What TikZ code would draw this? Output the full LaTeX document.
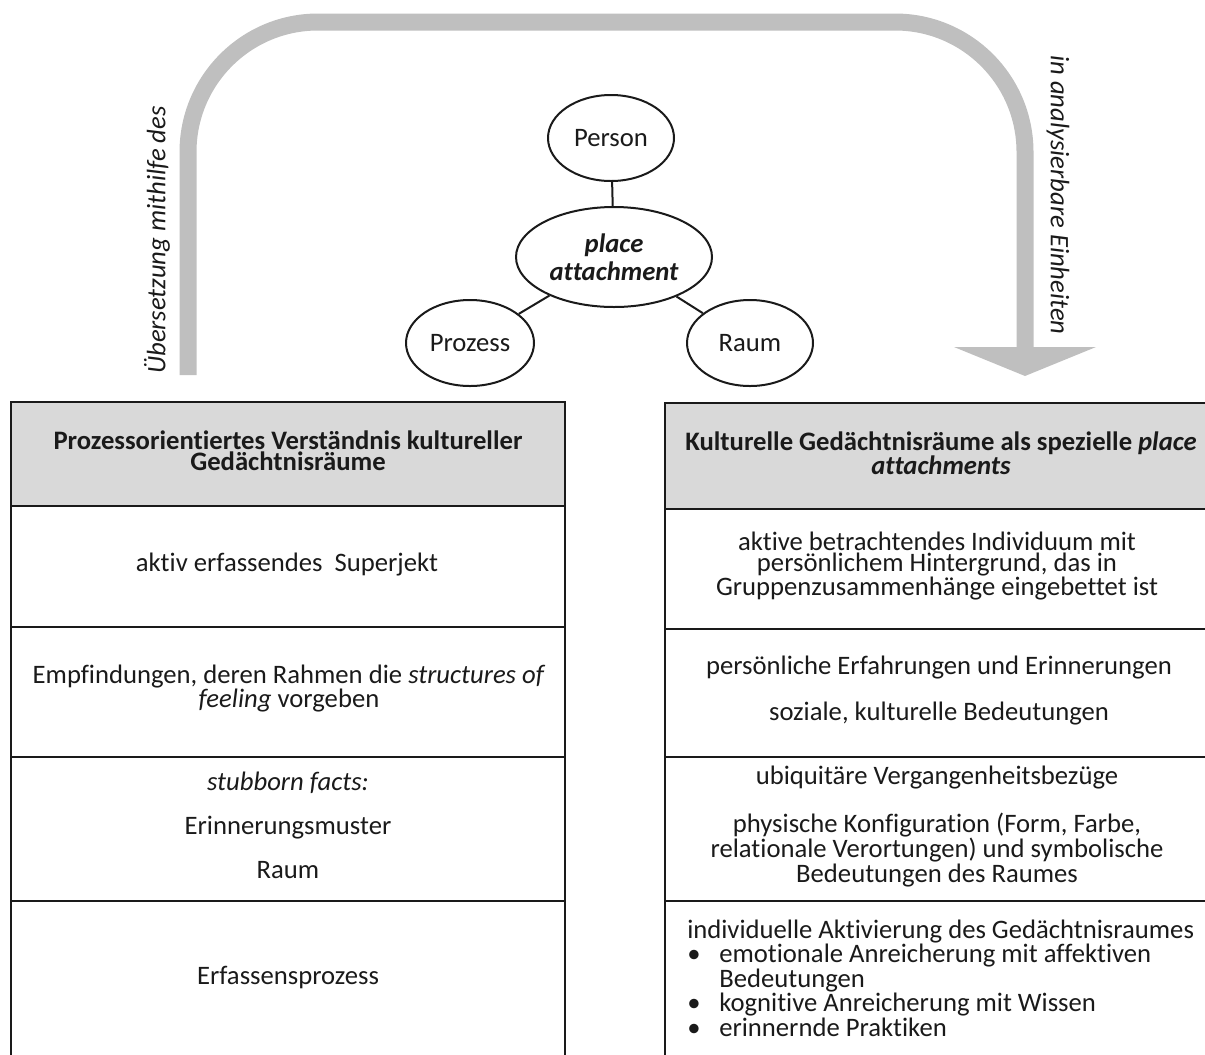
\documentclass[tikz,border=0pt]{standalone}
\usepackage{fontspec}
\setmainfont{Carlito}[Ligatures={NoCommon}]
\usetikzlibrary{shapes.geometric}
\definecolor{hdrgray}{HTML}{D9D9D9}
\definecolor{arrowgray}{HTML}{BFBFBF}
\definecolor{ink}{HTML}{1A1A1A}
\newcommand{\fsmain}{\fontsize{20}{15.75}\selectfont}
\tikzset{
  celltext/.style={inner sep=0pt, align=center, font=\fsmain, text=ink},
  ell/.style={ellipse, draw=ink, line width=1.5pt, inner sep=0pt, font=\fsmain, text=ink, align=center, fill=white},
  tabline/.style={draw=ink, line width=2.2pt},
  bigarrow/.style={draw=arrowgray, line width=12.75pt},
  sidelabel/.style={inner sep=0pt, font=\fsmain\itshape, text=ink}
}
\begin{document}
\begin{tikzpicture}[x=0.75pt,y=-0.75pt]
\useasboundingbox (0,0) rectangle (1205,1054);

% big gray arrow
\coordinate (as) at (188,375);
\coordinate (acl) at (188,22);
\coordinate (acr) at (1025,22);
\coordinate (ae) at (1025,347);
\coordinate (atip) at (1025,376);
\coordinate (abl) at (954,347);
\coordinate (abr) at (1096,347);
\draw[bigarrow, rounded corners=97.5pt] (as) -- (acl) -- (acr) -- (ae);
\fill[arrowgray] (abl) -- (abr) -- (atip) -- cycle;

\node[sidelabel, rotate=90] (lblL) at (157,240) {Übersetzung mithilfe des};
\node[sidelabel, rotate=-90] (lblR) at (1058,195) {in analysierbare Einheiten};

% ellipses
\node[ell, minimum width=94.5pt, minimum height=64.5pt] (person) at (611,138) {Person};
\node[ell, minimum width=147pt, minimum height=75pt, font=\fontsize{20}{21}\selectfont\bfseries\itshape] (pa) at (614,257) {place\\attachment};
\node[ell, minimum width=96pt, minimum height=64.5pt] (proz) at (470,343) {Prozess};
\node[ell, minimum width=94.5pt, minimum height=64.5pt] (raum) at (750,343) {Raum};
\draw[draw=ink, line width=1.5pt] (person) -- (pa);
\draw[draw=ink, line width=1.5pt] (pa) -- (proz);
\draw[draw=ink, line width=1.5pt] (pa) -- (raum);

% left table
\fill[hdrgray] (11,402) rectangle (565,506);
\draw[tabline] (11,1056) -- (11,402) -- (565,402) -- (565,1056);
\draw[tabline] (11,506) -- (565,506);
\draw[tabline] (11,627) -- (565,627);
\draw[tabline] (11,757) -- (565,757);
\draw[tabline] (11,901) -- (565,901);

% right table
\fill[hdrgray] (665,403) rectangle (1207,509);
\draw[tabline] (665,1056) -- (665,403) -- (1207,403);
\draw[tabline] (665,509) -- (1207,509);
\draw[tabline] (665,629) -- (1207,629);
\draw[tabline] (665,757) -- (1207,757);
\draw[tabline] (665,901) -- (1207,901);

% left texts
\node[celltext, font=\fsmain\bfseries] (lh) at (288,450.5) {Prozessorientiertes Verständnis kultureller\\Gedächtnisräume};
\node[celltext] (l1) at (287,565) {aktiv erfassendes~ Superjekt};
\node[celltext] (l2) at (289,688.5) {Empfindungen, deren Rahmen die \textit{structures of}\\\textit{feeling} vorgeben};
\node[celltext] (l3) at (288,825.5) {\textit{stubborn facts:}\\[15.75pt]Erinnerungsmuster\\[15.75pt]Raum};
\node[celltext] (l4) at (288,977) {Erfassensprozess};

% right texts
\node[celltext, font=\fsmain\bfseries] (rh) at (941,453) {Kulturelle Gedächtnisräume als spezielle \textit{place}\\\textit{attachments}};
\node[celltext] (r1) at (937,566) {aktive betrachtendes Individuum mit\\persönlichem Hintergrund, das in\\Gruppenzusammenhänge eingebettet ist};
\node[celltext] (r2) at (939,690.5) {persönliche Erfahrungen und Erinnerungen\\[16.5pt]soziale, kulturelle Bedeutungen};
\node[celltext] (r3) at (937,826.5) {ubiquitäre Vergangenheitsbezüge\\[16.5pt]physische Konfiguration (Form, Farbe,\\relationale Verortungen) und symbolische\\Bedeutungen des Raumes};
\node[celltext, align=left, anchor=west] (r4) at (687,978) {individuelle Aktivierung des Gedächtnisraumes\\
\makebox[24pt][l]{•}emotionale Anreicherung mit affektiven\\
\hspace*{24pt}Bedeutungen\\
\makebox[24pt][l]{•}kognitive Anreicherung mit Wissen\\
\makebox[24pt][l]{•}erinnernde Praktiken};
\end{tikzpicture}
\end{document}
